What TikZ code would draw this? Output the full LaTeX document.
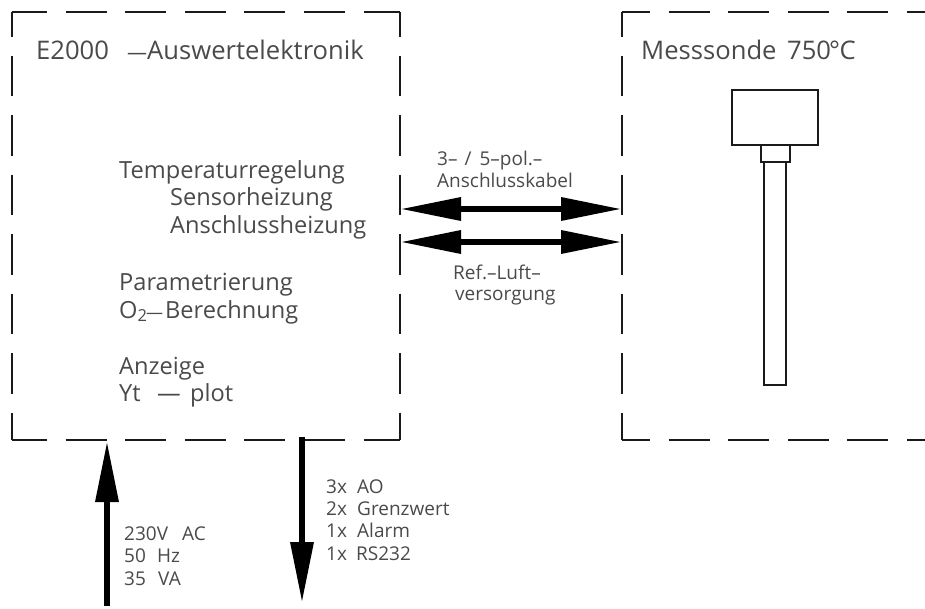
\documentclass[tikz,border=0pt]{standalone}
\usepackage{fontspec}
\setmainfont{Open Sans}
\usetikzlibrary{arrows.meta}
\definecolor{ink}{HTML}{1A1A1A}
\definecolor{txt}{HTML}{4A4A4A}
\newcommand{\lbx}[2]{\makebox[#1pt][l]{#2}}
\tikzset{
  x=1pt,y=-1pt,
  boxnode/.style={draw=none,inner sep=0pt,outer sep=0pt,minimum width=#1,minimum height=428pt,anchor=north west},
  hdash/.style={draw=ink,line width=1.5pt,dash pattern=on 41pt off 18.6pt,dash phase=6pt},
  hdashb/.style={draw=ink,line width=1.5pt,dash pattern=on 41pt off 18.6pt,dash phase=13pt},
  vdash/.style={draw=ink,line width=1.5pt,dash pattern=on 40.5pt off 19pt,dash phase=16pt},
  big/.style={inner sep=0pt,anchor=base west,text=txt,font=\fontsize{25.6}{28}\selectfont},
  mid/.style={inner sep=0pt,anchor=base west,text=txt,font=\fontsize{23.6}{28}\selectfont},
  small/.style={inner sep=0pt,anchor=base west,text=txt,font=\fontsize{19}{22}\selectfont},
  dbl/.style={draw=black,line width=6.5pt,{Triangle[length=61pt,width=22pt]}-{Triangle[length=61pt,width=22pt]}},
  sgl/.style={draw=black,line width=6.5pt,-{Triangle[length=61pt,width=22pt]}},
  probe/.style={draw=ink,line width=1.5pt,inner sep=0pt,outer sep=0pt,anchor=north west},
}
\begin{document}
\begin{tikzpicture}
\useasboundingbox (0,0) rectangle (925,608);
\clip (0,0) rectangle (925,608);
\node[boxnode=388pt] (b1) at (12,12) {};
\node[boxnode=313pt] (b2) at (622,12) {};
% dashed frames
\draw[hdash] (b1.north west) -- (b1.north east);
\draw[hdash] (b1.south west) -- (b1.south east);
\draw[vdash] (b1.north west) -- (b1.south west);
\draw[vdash] (b1.north east) -- (b1.south east);
\draw[hdashb] (b2.north west) -- (b2.north east);
\draw[hdashb] (b2.south west) -- (b2.south east);
\draw[vdash] (b2.north west) -- (b2.south west);
% probe
\node[probe,minimum width=86pt,minimum height=55pt] (head) at (732,90) {};
\node[probe,minimum width=29pt,minimum height=17pt] (neck) at (761,145) {};
\node[probe,minimum width=22pt,minimum height=223pt] (tube) at (764,162) {};
% texts
\node[big] (t1) at (36,59) {\lbx{91}{E2000}\lbx{20}{\fontsize{20}{20}\selectfont —}Auswertelektronik};
\node[big] (t2) at (641,59) {\lbx{146}{Messsonde}750\kern-2pt°\kern-0.5pt C};
\node[mid] (a1) at (119,178) {Temperaturregelung};
\node[mid] (a2) at (170,205) {Sensorheizung};
\node[mid] (a3) at (170,233) {Anschlussheizung};
\node[mid] (a4) at (119,290) {Parametrierung};
\node[mid] (a5) at (119,318) {\lbx{27}{O\textsubscript{2}}\lbx{19}{\fontsize{17}{17}\selectfont —}Berechnung};
\node[mid] (a6) at (119,374) {Anzeige};
\node[mid] (a7) at (119,401) {\lbx{38}{Yt}\lbx{33}{—}plot};
\node[small] (c1) at (437,165) {3–\hspace{7pt}/\hspace{8pt}5–pol.–};
\node[small] (c2) at (437,187) {Anschlusskabel};
\node[small] (c3) at (453,279) {Ref.–Luft–};
\node[small] (c4) at (455,300) {versorgung};
\node[small] (p1) at (124,540) {\lbx{58}{230V}AC};
\node[small] (p2) at (124,562) {\lbx{33}{50}Hz};
\node[small] (p3) at (124,585) {\lbx{34}{35}VA};
\node[small] (o1) at (326,493) {\lbx{31}{3x}AO};
\node[small] (o2) at (326,515) {\lbx{31}{2x}Grenzwert};
\node[small] (o3) at (326,537) {\lbx{31}{1x}Alarm};
\node[small] (o4) at (326,560) {\lbx{30}{1x}RS232};
% connectors
\coordinate (l1) at (b1.east |- 0,209);
\coordinate (r1) at (b2.west |- 0,209);
\coordinate (l2) at (b1.east |- 0,242);
\coordinate (r2) at (b2.west |- 0,242);
\coordinate (pin) at (107,606);
\coordinate (pout) at (107,441);
\coordinate (sin) at (302,437);
\coordinate (sout) at (302,603);
\draw[dbl] (l1) -- (r1);
\draw[dbl] (l2) -- (r2);
\draw[sgl] (pin) -- (pout);
\draw[sgl] (sin) -- (sout);
\end{tikzpicture}
\end{document}
